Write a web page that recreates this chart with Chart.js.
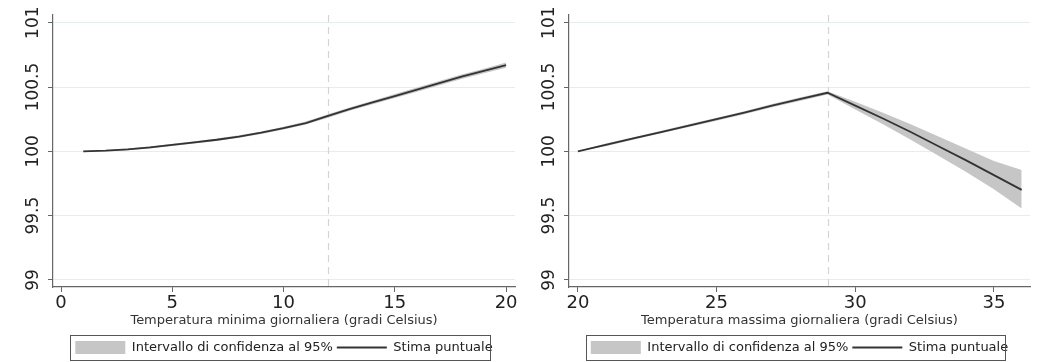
<!DOCTYPE html>
<html>
<head>
<meta charset="utf-8">
<script src="https://cdn.jsdelivr.net/npm/chart.js@4"></script>
<style>
  body { margin: 0; background: #fff; }
  .row { display: flex; width: 1040px; height: 362px; }
  canvas { display: block; }
</style>
</head>
<body>
<div class="row">
  <canvas id="chartMin" width="520" height="362"></canvas>
  <canvas id="chartMax" width="520" height="362"></canvas>
</div>
<script>
// minimum daily temperature panel
var tempMin = [1, 2, 3, 4, 5, 6, 7, 8, 9, 10, 11, 12, 13, 14, 15, 16, 17, 18, 19, 20];
var stimaMin = [100.00, 100.005, 100.015, 100.03, 100.05, 100.07, 100.09, 100.115, 100.145, 100.18,
                100.22, 100.275, 100.33, 100.38, 100.43, 100.48, 100.53, 100.58, 100.625, 100.67];
var hiMin = [100.004, 100.011, 100.022, 100.038, 100.058, 100.079, 100.099, 100.125, 100.155, 100.191,
             100.232, 100.288, 100.343, 100.394, 100.445, 100.496, 100.546, 100.597, 100.643, 100.69];
var loMin = [99.996, 99.999, 100.008, 100.022, 100.042, 100.061, 100.081, 100.105, 100.135, 100.169,
             100.208, 100.262, 100.317, 100.366, 100.415, 100.464, 100.514, 100.563, 100.607, 100.65];
var cutMin = 12;
var xTicksMin = [0, 5, 10, 15, 20];

// maximum daily temperature panel
var tempMax = [20, 21, 22, 23, 24, 25, 26, 27, 28, 29, 30, 31, 32, 33, 34, 35, 36];
var stimaMax = [100.00, 100.05, 100.10, 100.15, 100.20, 100.25, 100.30, 100.355, 100.405, 100.455,
                100.355, 100.255, 100.15, 100.04, 99.93, 99.815, 99.70];
var hiMax = [100.00, 100.06, 100.11, 100.16, 100.21, 100.262, 100.312, 100.367, 100.418, 100.468,
             100.385, 100.30, 100.21, 100.115, 100.02, 99.925, 99.855];
var loMax = [100.00, 100.04, 100.09, 100.14, 100.19, 100.238, 100.288, 100.343, 100.392, 100.442,
             100.325, 100.21, 100.09, 99.965, 99.84, 99.705, 99.555];
var cutMax = 29;
var xTicksMax = [20, 25, 30, 35];

var yTicks = [99, 99.5, 100, 100.5, 101];

var FONT = "'DejaVu Sans', Verdana, sans-serif";

// dashed vertical line at the threshold temperature
const cutLine = {
    id: 'cutLine',
    beforeDatasetsDraw(chart, args, opts) {
        const ctx = chart.ctx;
        const x = Math.round(chart.scales.x.getPixelForValue(opts.value)) + 0.5;
        ctx.save();
        ctx.strokeStyle = '#d4d4d4';
        ctx.lineWidth = 1.2;
        ctx.setLineDash([7, 5]);
        ctx.beginPath();
        ctx.moveTo(x, chart.chartArea.top);
        ctx.lineTo(x, chart.chartArea.bottom);
        ctx.stroke();
        ctx.restore();
    }
};

// frame around the legend items
const legendFrame = {
    id: 'legendFrame',
    afterDraw(chart) {
        const boxes = chart.legend.legendHitBoxes;
        if (!boxes || !boxes.length) return;
        const first = boxes[0], last = boxes[boxes.length - 1];
        const ctx = chart.ctx;
        ctx.save();
        ctx.strokeStyle = '#555';
        ctx.lineWidth = 1;
        const left = Math.round(first.left - 5) + 0.5;
        const top = Math.round(first.top - 6) + 0.5;
        const right = Math.round(last.left + last.width - 3) + 0.5;
        ctx.strokeRect(left, top, right - left, first.height + 12);
        ctx.restore();
    }
};

function makeChart(id, xs, stima, lo, hi, xTicks, xMin, xMax, cut, titolo, axisWidth, padRight) {
    const ctx = document.getElementById(id).getContext('2d');
    return new Chart(ctx, {
        type: 'line',
        data: {
            datasets: [{
                label: '',
                data: xs.map((x, i) => ({ x: x, y: lo[i] })),
                borderWidth: 0,
                pointRadius: 0,
                fill: false,
                order: 2
            }, {
                label: 'Intervallo di confidenza al 95%',
                data: xs.map((x, i) => ({ x: x, y: hi[i] })),
                borderWidth: 0,
                borderColor: '#c6c6c6',
                backgroundColor: '#c6c6c6',
                pointRadius: 0,
                pointStyle: 'rect',
                fill: '-1',
                order: 1
            }, {
                label: 'Stima puntuale',
                data: xs.map((x, i) => ({ x: x, y: stima[i] })),
                borderColor: '#333333',
                backgroundColor: '#333333',
                borderWidth: 1.8,
                pointRadius: 0,
                pointStyle: 'line',
                tension: 0,
                fill: false,
                order: 0
            }]
        },
        options: {
            responsive: false,
            animation: false,
            events: [],
            layout: { padding: { top: 15, left: 0, right: padRight, bottom: -2 } },
            scales: {
                x: {
                    type: 'linear',
                    min: xMin,
                    max: xMax,
                    afterBuildTicks: function (s) { s.ticks = xTicks.map(v => ({ value: v })); },
                    afterFit: function (s) { s.height = 50; },
                    border: { color: '#666', width: 1.2 },
                    grid: { drawOnChartArea: false, tickColor: '#666', tickLength: 5 },
                    ticks: {
                        padding: 1,
                        minRotation: 0,
                        maxRotation: 0,
                        color: '#222',
                        font: { family: FONT, size: 18 }
                    },
                    title: {
                        display: true,
                        text: titolo,
                        color: '#333',
                        font: { family: FONT, size: 13 },
                        padding: { top: 0, bottom: 9 }
                    }
                },
                y: {
                    type: 'linear',
                    min: 98.945,
                    max: 101.06,
                    afterBuildTicks: function (s) { s.ticks = yTicks.map(v => ({ value: v })); },
                    afterFit: function (s) { s.width = axisWidth; },
                    border: { color: '#666', width: 1.2 },
                    grid: { color: '#e3eeee', tickColor: '#666', tickLength: 5 },
                    ticks: {
                        minRotation: 90,
                        maxRotation: 90,
                        crossAlign: 'center',
                        padding: -10,
                        color: '#222',
                        font: { family: FONT, size: 17 },
                        callback: function (v) { return String(v); }
                    }
                }
            },
            plugins: {
                legend: {
                    position: 'bottom',
                    fullSize: false,
                    labels: {
                        usePointStyle: true,
                        pointStyleWidth: 50,
                        boxHeight: 13,
                        padding: 4,
                        color: '#222',
                        font: { family: FONT, size: 13 },
                        filter: function (item) { return item.text !== ''; },
                        sort: function (a, b) { return a.datasetIndex - b.datasetIndex; }
                    }
                },
                tooltip: { enabled: false },
                cutLine: { value: cut }
            }
        },
        plugins: [cutLine, legendFrame]
    });
}

makeChart('chartMin', tempMin, stimaMin, loMin, hiMin, xTicksMin, -0.36, 20.4, cutMin,
    'Temperatura minima giornaliera (gradi Celsius)', 53, 5);
makeChart('chartMax', tempMax, stimaMax, loMax, hiMax, xTicksMax, 19.68, 36.3, cutMax,
    'Temperatura massima giornaliera (gradi Celsius)', 49, 10);
</script>
</body>
</html>
